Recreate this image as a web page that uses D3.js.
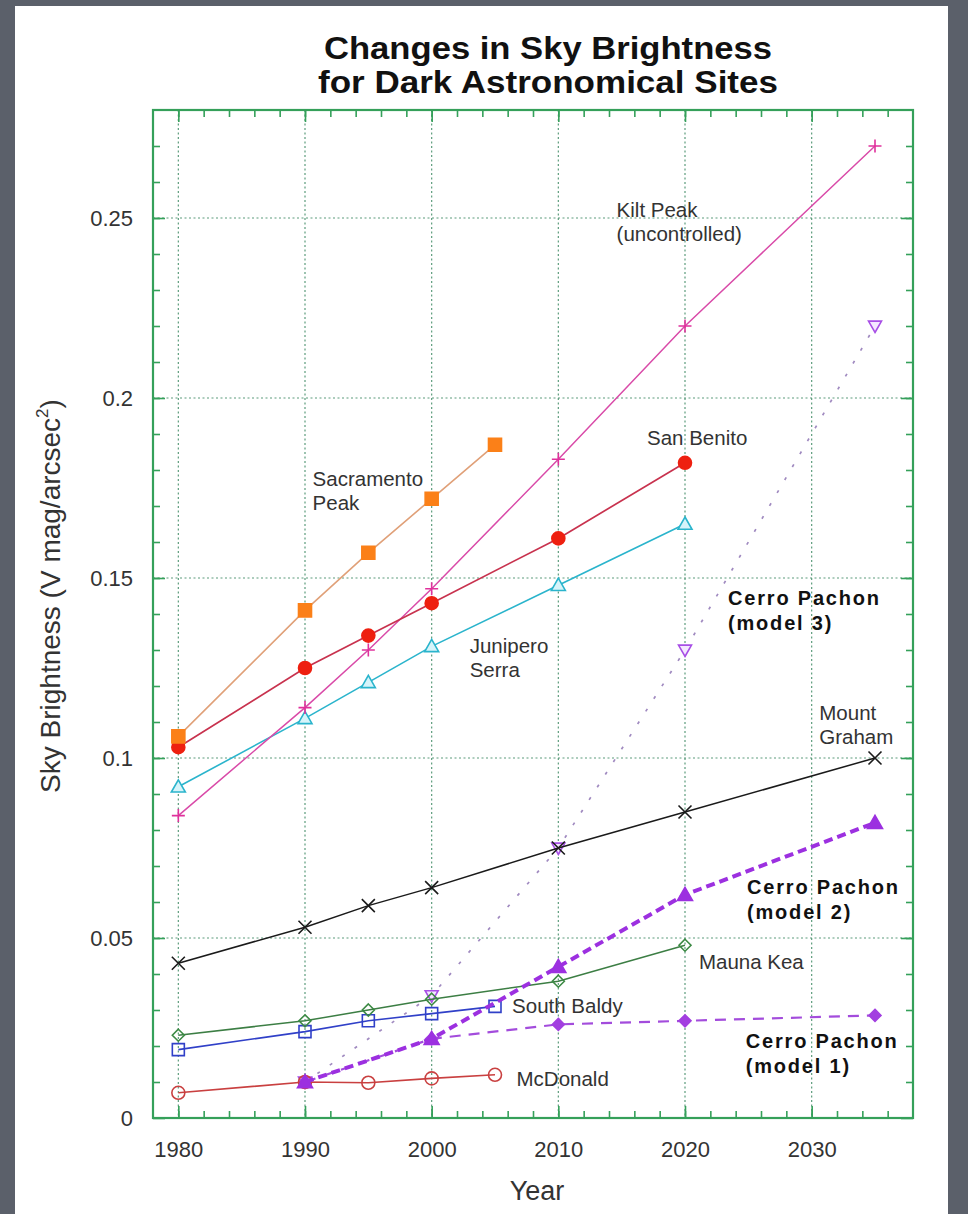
<!DOCTYPE html>
<html>
<head>
<meta charset="utf-8">
<script src="https://cdn.jsdelivr.net/npm/d3@7"></script>
<style>
  body { margin: 0; background: #5b606a; }
  svg { display: block; }
  text { font-family: "Liberation Sans", Arial, Helvetica, sans-serif; }
</style>
</head>
<body>
<script>
// values (sky brightness, V mag/arcsec^2)
const sacramentoYears = [1980, 1990, 1995, 2000, 2005];
const sacramentoValues = [0.106, 0.141, 0.157, 0.172, 0.187];

const sanBenitoYears = [1980, 1990, 1995, 2000, 2010, 2020];
const sanBenitoValues = [0.103, 0.125, 0.134, 0.143, 0.161, 0.182];

const kittPeakYears = [1980, 1990, 1995, 2000, 2010, 2020, 2035];
const kittPeakValues = [0.084, 0.114, 0.130, 0.147, 0.183, 0.220, 0.270];

const juniperoYears = [1980, 1990, 1995, 2000, 2010, 2020];
const juniperoValues = [0.092, 0.111, 0.121, 0.131, 0.148, 0.165];

const grahamYears = [1980, 1990, 1995, 2000, 2010, 2020, 2035];
const grahamValues = [0.043, 0.053, 0.059, 0.064, 0.075, 0.085, 0.100];

const maunaKeaYears = [1980, 1990, 1995, 2000, 2010, 2020];
const maunaKeaValues = [0.023, 0.027, 0.030, 0.033, 0.038, 0.048];

const southBaldyYears = [1980, 1990, 1995, 2000, 2005];
const southBaldyValues = [0.019, 0.024, 0.027, 0.029, 0.031];

const mcdonaldYears = [1980, 1990, 1995, 2000, 2005];
const mcdonaldValues = [0.007, 0.010, 0.0098, 0.011, 0.012];

const pachonYears = [1990, 2000, 2010, 2020, 2035];
const pachonModel1 = [0.010, 0.022, 0.026, 0.027, 0.0285];
const pachonModel2 = [0.010, 0.022, 0.042, 0.062, 0.082];
const pachonModel3 = [0.010, 0.034, 0.075, 0.130, 0.220];

const xTicks = [1980, 1990, 2000, 2010, 2020, 2030];
const yTicks = [0, 0.05, 0.1, 0.15, 0.2, 0.25];
const yTickLabels = ["0", "0.05", "0.1", "0.15", "0.2", "0.25"];

const titleLines = ["Changes in Sky Brightness", "for Dark Astronomical Sites"];

// site labels, placed in data coordinates
const siteLabels = [
  {lines: ["Kilt Peak", "(uncontrolled)"], year: 2014.6, value: 0.2503},
  {lines: ["San Benito"], year: 2017.0, value: 0.187},
  {lines: ["Sacramento", "Peak"], year: 1990.6, value: 0.1756},
  {lines: ["Junipero", "Serra"], year: 2003.0, value: 0.1292},
  {lines: ["Mount", "Graham"], year: 2030.6, value: 0.1106},
  {lines: ["Mauna Kea"], year: 2021.1, value: 0.0414},
  {lines: ["South Baldy"], year: 2006.35, value: 0.0292},
  {lines: ["McDonald"], year: 2006.7, value: 0.0089}
];
const modelLabels = [
  {lines: ["Cerro Pachon", "(model 3)"], year: 2023.4, value: 0.1425},
  {lines: ["Cerro Pachon", "(model 2)"], year: 2024.9, value: 0.0622},
  {lines: ["Cerro Pachon", "(model 1)"], year: 2024.8, value: 0.0194}
];

const width = 968;
const height = 1214;
const plot = {left: 153, right: 913, top: 110, bottom: 1118};

const x = d3.scaleLinear().domain([1978, 2038]).range([plot.left, plot.right]);
const y = d3.scaleLinear().domain([0, 0.28]).range([plot.bottom, plot.top]);

const frameColor = "#35a05a";
const gridColor = "#5c9c7c";

// marker shapes, centred on 0,0
const shapes = {
  square: r => `M${-r},${-r}h${2 * r}v${2 * r}h${-2 * r}Z`,
  circle: r => `M${r},0A${r},${r} 0 1,1 ${-r},0A${r},${r} 0 1,1 ${r},0Z`,
  triangle: r => `M0,${-r}L${r},${r * 0.75}L${-r},${r * 0.75}Z`,
  triangleDown: r => `M0,${r}L${r},${-r * 0.75}L${-r},${-r * 0.75}Z`,
  diamond: r => `M0,${-r}L${r},0L0,${r}L${-r},0Z`,
  plus: r => `M${-r},0H${r}M0,${-r}V${r}`,
  times: r => `M${-r},${-r}L${r},${r}M${-r},${r}L${r},${-r}`
};

const series = [
  {years: pachonYears, values: pachonModel3, line: "#a08ac0", width: 1.7, dash: "3,12",
   shape: "triangleDown", stroke: "#a84fe6", fill: "#f4e8ff", size: 6.5},
  {years: pachonYears, values: pachonModel1, line: "#a34cdc", width: 2.2, dash: "11,8",
   shape: "diamond", stroke: "#a23fe0", fill: "#a23fe0", size: 6},
  {years: mcdonaldYears, values: mcdonaldValues, line: "#c94040", width: 1.6,
   shape: "circle", stroke: "#c94040", fill: "none", size: 6.5},
  {years: southBaldyYears, values: southBaldyValues, line: "#3040c8", width: 1.6,
   shape: "square", stroke: "#3040c8", fill: "none", size: 6},
  {years: maunaKeaYears, values: maunaKeaValues, line: "#3c7e44", width: 1.5,
   shape: "diamond", stroke: "#3c8a44", fill: "none", size: 6},
  {years: grahamYears, values: grahamValues, line: "#1a1a1a", width: 1.5,
   shape: "times", stroke: "#1a1a1a", fill: "none", size: 6.5},
  {years: juniperoYears, values: juniperoValues, line: "#2ab4cc", width: 1.6,
   shape: "triangle", stroke: "#2ab4cc", fill: "#d6f4fa", size: 7},
  {years: kittPeakYears, values: kittPeakValues, line: "#d94aa8", width: 1.5,
   shape: "plus", stroke: "#e0309c", fill: "none", size: 6.5},
  {years: sanBenitoYears, values: sanBenitoValues, line: "#c8324e", width: 1.7,
   shape: "circle", stroke: "#ee2010", fill: "#ee2010", size: 6.5},
  {years: sacramentoYears, values: sacramentoValues, line: "#e0a078", width: 1.6,
   shape: "square", stroke: "#fb8018", fill: "#fb8018", size: 6.5},
  {years: pachonYears, values: pachonModel2, line: "#9c30e0", width: 4, dash: "9,5",
   shape: "triangle", stroke: "#9c30e0", fill: "#9c30e0", size: 7.5}
];

const svg = d3.select("body").append("svg")
    .attr("width", width)
    .attr("height", height);

// white page on the slate background
svg.append("rect")
    .attr("x", 15)
    .attr("y", 6)
    .attr("width", 933)
    .attr("height", height)
    .attr("fill", "#ffffff");

// title, two lines
svg.selectAll("text.title")
  .data(titleLines)
  .join("text")
    .attr("class", "title")
    .attr("x", 548)
    .attr("y", (d, i) => 59 + i * 34)
    .attr("text-anchor", "middle")
    .attr("font-size", 31)
    .attr("font-weight", "bold")
    .attr("fill", "#111")
    .attr("textLength", (d, i) => i === 0 ? 448 : 460)
    .attr("lengthAdjust", "spacingAndGlyphs")
    .text(d => d);

// grid
const grid = svg.append("g")
    .attr("stroke", gridColor)
    .attr("stroke-width", 1.2)
    .attr("stroke-dasharray", "2,2.5");

grid.selectAll("line.vgrid")
  .data(xTicks)
  .join("line")
    .attr("class", "vgrid")
    .attr("x1", d => x(d))
    .attr("x2", d => x(d))
    .attr("y1", plot.top)
    .attr("y2", plot.bottom);

grid.selectAll("line.hgrid")
  .data(yTicks.slice(1))
  .join("line")
    .attr("class", "hgrid")
    .attr("x1", plot.left)
    .attr("x2", plot.right)
    .attr("y1", d => y(d))
    .attr("y2", d => y(d));

// inward ticks on all four sides
const minorX = d3.range(1980, 2038, 2);
const minorY = d3.range(1, 28).map(i => i / 100);

function tickAxis(axis, transform) {
  const g = svg.append("g")
      .attr("transform", transform)
      .call(axis);
  g.select(".domain").remove();
  g.selectAll(".tick line").attr("stroke", frameColor).attr("stroke-width", 1.6);
}

tickAxis(d3.axisBottom(x).tickValues(minorX).tickSize(-7).tickFormat(""), `translate(0,${plot.bottom})`);
tickAxis(d3.axisTop(x).tickValues(minorX).tickSize(-7).tickFormat(""), `translate(0,${plot.top})`);
tickAxis(d3.axisLeft(y).tickValues(minorY).tickSize(-7).tickFormat(""), `translate(${plot.left},0)`);
tickAxis(d3.axisRight(y).tickValues(minorY).tickSize(-7).tickFormat(""), `translate(${plot.right},0)`);
tickAxis(d3.axisLeft(y).tickValues(yTicks).tickSize(-12).tickFormat(""), `translate(${plot.left},0)`);
tickAxis(d3.axisRight(y).tickValues(yTicks).tickSize(-12).tickFormat(""), `translate(${plot.right},0)`);
tickAxis(d3.axisBottom(x).tickValues(xTicks).tickSize(-12).tickFormat(""), `translate(0,${plot.bottom})`);
tickAxis(d3.axisTop(x).tickValues(xTicks).tickSize(-12).tickFormat(""), `translate(0,${plot.top})`);

// tick labels
const xLabels = svg.append("g")
    .attr("transform", `translate(0,${plot.bottom})`)
    .call(d3.axisBottom(x).tickValues(xTicks).tickSize(0).tickPadding(23).tickFormat(d3.format("d")));
xLabels.select(".domain").remove();
xLabels.attr("font-size", 22).attr("font-family", null).attr("color", "#333");

const yLabels = svg.append("g")
    .attr("transform", `translate(${plot.left},0)`)
    .call(d3.axisLeft(y).tickValues(yTicks).tickSize(0).tickPadding(20)
      .tickFormat((d, i) => yTickLabels[i]));
yLabels.select(".domain").remove();
yLabels.attr("font-size", 22).attr("font-family", null).attr("color", "#333");

// axis titles
svg.append("text")
    .attr("x", (plot.left + plot.right) / 2 + 4)
    .attr("y", 1200)
    .attr("text-anchor", "middle")
    .attr("font-size", 27)
    .attr("fill", "#333")
    .text("Year");

const yTitle = svg.append("text")
    .attr("transform", "translate(60,596) rotate(-90)")
    .attr("text-anchor", "middle")
    .attr("font-size", 28)
    .attr("fill", "#333");
yTitle.append("tspan").text("Sky Brightness (V mag/arcsec");
yTitle.append("tspan").attr("font-size", 17).attr("dy", -12).text("2");
yTitle.append("tspan").attr("dy", 12).text(")");

// series lines and markers
const line = d3.line()
    .x(d => x(d.year))
    .y(d => y(d.value));

series.forEach(s => {
  const points = s.years.map((yr, i) => ({year: yr, value: s.values[i]}));
  const g = svg.append("g");

  g.append("path")
      .datum(points)
      .attr("d", line)
      .attr("fill", "none")
      .attr("stroke", s.line)
      .attr("stroke-width", s.width)
      .attr("stroke-dasharray", s.dash || null);

  g.selectAll("path.marker")
    .data(points)
    .join("path")
      .attr("class", "marker")
      .attr("transform", d => "translate(" + x(d.year) + "," + y(d.value) + ")")
      .attr("d", shapes[s.shape](s.size))
      .attr("fill", s.fill)
      .attr("stroke", s.stroke)
      .attr("stroke-width", 1.6);
});

// plot frame
svg.append("rect")
    .attr("x", plot.left)
    .attr("y", plot.top)
    .attr("width", plot.right - plot.left)
    .attr("height", plot.bottom - plot.top)
    .attr("fill", "none")
    .attr("stroke", frameColor)
    .attr("stroke-width", 2.2);

// site annotations
function annotate(labels, size, weight, spacing, color) {
  labels.forEach(l => {
    svg.append("text")
        .attr("x", x(l.year))
        .attr("y", y(l.value))
        .attr("font-size", size)
        .attr("font-weight", weight)
        .attr("letter-spacing", spacing)
        .attr("fill", color)
      .selectAll("tspan")
      .data(l.lines)
      .join("tspan")
        .attr("x", x(l.year))
        .attr("dy", (d, i) => i === 0 ? 0 : 24.5)
        .text(d => d);
  });
}

annotate(siteLabels, 20.5, "normal", 0, "#333");
annotate(modelLabels, 20, "bold", 1.8, "#111");
</script>
</body>
</html>
